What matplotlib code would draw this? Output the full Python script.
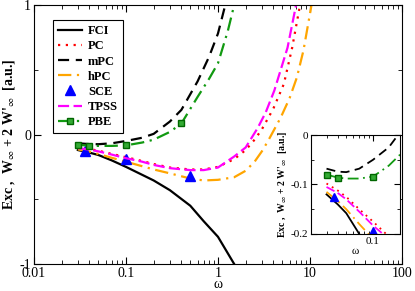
import numpy as np
import matplotlib
matplotlib.use('Agg')
import matplotlib.pyplot as plt
from matplotlib.ticker import NullFormatter, FixedLocator, LogLocator

plt.rcParams['font.family'] = ['Liberation Serif', 'DejaVu Serif']
plt.rcParams['mathtext.fontset'] = 'stix'

# data
fci_w = [0.03, 0.04, 0.05, 0.07, 0.1, 0.2, 0.3, 0.5, 0.7, 1.0, 1.5, 2.0]
fci_e = [-0.12, -0.14, -0.158, -0.20, -0.25, -0.355, -0.43, -0.55, -0.67, -0.79, -1.0, -1.17]

pc_w = [0.03, 0.04, 0.05, 0.07, 0.1, 0.15, 0.2, 0.3, 0.5, 0.7, 1.0, 1.5, 2.0, 2.5, 3.0, 4.0, 5.2, 6.4, 7.8, 8.5]
pc_e = [-0.098, -0.112, -0.125, -0.15, -0.175, -0.205, -0.228, -0.255, -0.27, -0.27,
        -0.25, -0.19, -0.12, -0.04, 0.04, 0.2, 0.39, 0.67, 1.0, 1.2]

mpc_w = [0.03, 0.04, 0.05, 0.07, 0.1, 0.15, 0.2, 0.3, 0.4, 0.6, 0.8, 1.0, 1.2, 1.4]
mpc_e = [-0.068, -0.074, -0.075, -0.068, -0.05, -0.025, 0.005, 0.1, 0.19, 0.41, 0.6, 0.78, 1.0, 1.25]

hpc_w = [0.03, 0.04, 0.05, 0.07, 0.1, 0.15, 0.2, 0.3, 0.5, 0.7, 1.0, 1.5, 2.0, 2.5, 3.0, 3.5,
         4.8, 6.0, 7.2, 8.5, 9.7, 11.0]
hpc_e = [-0.115, -0.133, -0.15, -0.18, -0.21, -0.245, -0.27, -0.30, -0.34, -0.355, -0.35,
         -0.33, -0.28, -0.21, -0.13, -0.05, 0.13, 0.28, 0.44, 0.65, 0.88, 1.1]

sce_w = [0.036, 0.1, 0.5]
sce_e = [-0.125, -0.193, -0.324]

tpss_w = [0.03, 0.04, 0.05, 0.07, 0.1, 0.15, 0.2, 0.3, 0.5, 0.7, 1.0, 1.5, 2.0, 2.7, 3.3, 4.1, 5.7, 7.06, 8.0]
tpss_e = [-0.105, -0.117, -0.13, -0.155, -0.183, -0.21, -0.235, -0.26, -0.275, -0.275,
          -0.255, -0.17, -0.1, 0.05, 0.17, 0.34, 0.67, 1.0, 1.25]

pbe_w = [0.03, 0.04, 0.05, 0.07, 0.1, 0.15, 0.2, 0.3, 0.4, 0.6, 0.8, 1.0, 1.28, 1.5, 1.7]
pbe_e = [-0.08, -0.086, -0.088, -0.088, -0.084, -0.062, -0.04, 0.02, 0.085, 0.29, 0.43,
         0.55, 0.8, 1.0, 1.2]
pbe_marks = [0, 1, 4, 8]

ylab = r"Exc ,  W$_\infty$ + 2 W'$_\infty$  [a.u.]"

fig = plt.figure(figsize=(4.15, 2.91), dpi=100)
ax = fig.add_axes([0.0819, 0.0928, 0.8867, 0.890])
ins = fig.add_axes([0.749, 0.196, 0.2145, 0.340])


def draw(a, lw, ms_tri, ms_sq):
    a.plot(fci_w, fci_e, color='black', lw=lw, label='FCI')
    a.plot(pc_w, pc_e, color='red', lw=lw, linestyle=(0, (1, 2.5)), label='PC')
    a.plot(mpc_w, mpc_e, color='black', lw=lw, linestyle=(0, (5, 3)), label='mPC')
    a.plot(hpc_w, hpc_e, color='orange', lw=lw, linestyle=(0, (6, 2.5, 1, 2.5)), label='hPC')
    a.plot(sce_w, sce_e, linestyle='none', marker='^', color='blue', ms=ms_tri, label='SCE')
    a.plot(tpss_w, tpss_e, color='magenta', lw=lw, linestyle=(0, (5, 2)), label='TPSS')
    a.plot(pbe_w, pbe_e, color='#119911', lw=lw, linestyle=(0, (6, 2.5, 1, 2.5)),
           marker='s', markevery=pbe_marks, ms=ms_sq, mfc='#33aa33', mec='#006600', label='PBE')


draw(ax, 1.6, 6.5, 4.5)
draw(ins, 1.3, 6, 4.5)

ax.set_xscale('log')
ax.set_xlim(0.01, 100)
ax.set_ylim(-1, 1)
ax.set_xticks([0.01, 0.1, 1, 10, 100])
ax.set_xticklabels(['0.01', '0.1', '1', '10', '100'])
ax.xaxis.set_minor_locator(LogLocator(base=10, subs=np.arange(2, 10)))
ax.xaxis.set_minor_formatter(NullFormatter())
ax.set_yticks([-1, 0, 1])
ax.set_yticklabels(['-1', '0', '1'])
ax.yaxis.set_minor_locator(FixedLocator([-0.5, 0.5]))
ax.tick_params(which='both', direction='in', top=True, right=True, labelsize=10, pad=2)
ax.tick_params(which='major', length=5)
ax.tick_params(which='minor', length=3)
ax.set_xlabel('ω', fontsize=10, labelpad=-1)
ax.set_ylabel(ylab, fontsize=10, fontweight='bold', labelpad=2)

leg = ax.legend(loc='upper left', bbox_to_anchor=(0.035, 0.965), fancybox=False, edgecolor='black',
                prop={'weight': 'bold', 'size': 9}, handlelength=1.9, labelspacing=0.25,
                borderpad=0.4, handletextpad=0.5, framealpha=1)
leg.get_frame().set_linewidth(0.8)

ins.set_xscale('log')
ins.set_xlim(0.02, 0.2)
ins.set_ylim(-0.2, 0)
ins.set_xticks([0.1])
ins.set_xticklabels(['0.1'])
ins.xaxis.set_minor_locator(LogLocator(base=10, subs=np.arange(2, 10)))
ins.xaxis.set_minor_formatter(NullFormatter())
ins.set_yticks([-0.2, -0.1, 0])
ins.set_yticklabels(['-0.2', '-0.1', '0'])
ins.yaxis.set_minor_locator(FixedLocator([-0.15, -0.05]))
ins.tick_params(which='both', direction='in', top=True, right=True, labelsize=8, pad=2)
ins.tick_params(which='major', length=4)
ins.tick_params(which='minor', length=2.5)
ins.set_xlabel('ω', fontsize=8, labelpad=1)
ins.set_ylabel(ylab, fontsize=7, fontweight='bold', labelpad=1)

fig.savefig('out.png', dpi=100)
